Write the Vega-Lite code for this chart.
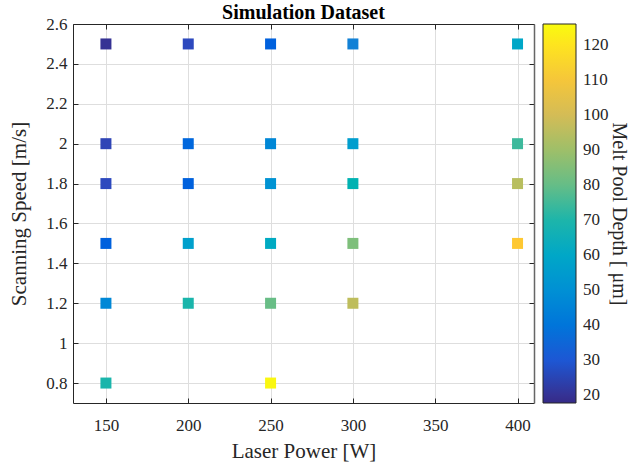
{
  "$schema": "https://vega.github.io/schema/vega-lite/v6.json",
  "autosize": {"type": "none"},
  "padding": {"left": 73, "top": 24, "right": 96, "bottom": 64},
  "width": 461,
  "height": 379,
  "background": "white",
  "title": {"text": "Simulation Dataset", "font": "Liberation Serif", "fontSize": 20, "fontWeight": "bold", "color": "#000000", "offset": 6, "dy": 14, "anchor": "middle"},
  "config": {
    "view": {"stroke": null},
    "font": "Liberation Serif",
    "axis": {
      "labelFont": "Liberation Serif", "titleFont": "Liberation Serif",
      "labelFontSize": 17, "titleFontSize": 21, "titleFontWeight": "normal",
      "labelColor": "#262626", "titleColor": "#262626",
      "domainColor": "#262626", "tickColor": "#262626", "gridColor": "#dedede", "gridWidth": 1,
      "tickSize": -5, "labelPadding": 8
    },
    "legend": {"labelFont": "Liberation Serif", "titleFont": "Liberation Serif"}
  },
  "data": {"values": [
    {"power": 150, "speed": 2.5, "depth": 20},
    {"power": 200, "speed": 2.5, "depth": 26.5},
    {"power": 250, "speed": 2.5, "depth": 33},
    {"power": 300, "speed": 2.5, "depth": 45},
    {"power": 400, "speed": 2.5, "depth": 60},
    {"power": 150, "speed": 2.0, "depth": 25.4},
    {"power": 200, "speed": 2.0, "depth": 35},
    {"power": 250, "speed": 2.0, "depth": 47},
    {"power": 300, "speed": 2.0, "depth": 55.7},
    {"power": 400, "speed": 2.0, "depth": 74},
    {"power": 150, "speed": 1.8, "depth": 26.5},
    {"power": 200, "speed": 1.8, "depth": 33},
    {"power": 250, "speed": 1.8, "depth": 51.3},
    {"power": 300, "speed": 1.8, "depth": 67.6},
    {"power": 400, "speed": 1.8, "depth": 94.6},
    {"power": 150, "speed": 1.5, "depth": 33},
    {"power": 200, "speed": 1.5, "depth": 56.8},
    {"power": 250, "speed": 1.5, "depth": 62},
    {"power": 300, "speed": 1.5, "depth": 84},
    {"power": 400, "speed": 1.5, "depth": 112.5},
    {"power": 150, "speed": 1.2, "depth": 47},
    {"power": 200, "speed": 1.2, "depth": 69.7},
    {"power": 250, "speed": 1.2, "depth": 80.5},
    {"power": 300, "speed": 1.2, "depth": 95.7},
    {"power": 150, "speed": 0.8, "depth": 69.7},
    {"power": 250, "speed": 0.8, "depth": 125}
  ]},
  "layer": [
    {
      "mark": {"type": "square", "size": 121, "opacity": 1, "filled": true},
      "encoding": {
        "x": {"field": "power", "type": "quantitative", "scale": {"domain": [130, 410], "nice": false, "zero": false},
              "axis": {"orient": "bottom", "values": [150, 200, 250, 300, 350, 400], "format": "d", "title": "Laser Power [W]", "labelFont": "Liberation Serif", "labelPadding": 19, "titlePadding": 7, "grid": true}},
        "y": {"field": "speed", "type": "quantitative", "scale": {"domain": [0.7, 2.6], "nice": false, "zero": false},
              "axis": {"orient": "left", "values": [0.8, 1, 1.2, 1.4, 1.6, 1.8, 2, 2.2, 2.4, 2.6], "format": "~g", "title": "Scanning Speed [m/s]", "labelFont": "Liberation Serif", "labelPadding": 11, "titlePadding": 16, "grid": true}},
        "color": {"field": "depth", "type": "quantitative",
                  "scale": {"domain": [17.8, 31.325, 44.85, 58.375, 71.9, 85.425, 98.95, 112.475, 126],
                            "range": ["#352A87", "#0F5CDD", "#1481D6", "#06A4CA", "#2EB7A4", "#87BF77", "#D1BB59", "#FEC832", "#F9FB0E"]},
                  "legend": {"orient": "none", "legendX": 470, "legendY": 0, "direction": "vertical",
                             "title": "Melt Pool Depth [ μm]", "titleOrient": "right", "titleFont": "Liberation Serif", "titleFontSize": 20, "titleFontWeight": "normal", "titleColor": "#262626", "titleLimit": 500,
                             "gradientLength": 379, "gradientThickness": 33, "gradientStrokeColor": "#262626", "gradientStrokeWidth": 1,
                             "values": [20, 30, 40, 50, 60, 70, 80, 90, 100, 110, 120],
                             "labelFont": "Liberation Serif", "labelFontSize": 17, "labelColor": "#262626", "labelOffset": 7, "titlePadding": 0}}
      }
    },
    {
      "mark": {"type": "square", "size": 121, "opacity": 0},
      "encoding": {
        "x": {"field": "power", "type": "quantitative",
              "axis": {"orient": "top", "values": [150, 200, 250, 300, 350, 400], "labels": false, "title": null, "grid": false}},
        "y": {"field": "speed", "type": "quantitative",
              "axis": {"orient": "right", "values": [0.8, 1, 1.2, 1.4, 1.6, 1.8, 2, 2.2, 2.4, 2.6], "labels": false, "title": null, "grid": false, "domainColor": "#666666", "domainWidth": 1.5}}
      }
    }
  ],
  "resolve": {"axis": {"x": "independent", "y": "independent"}}
}
